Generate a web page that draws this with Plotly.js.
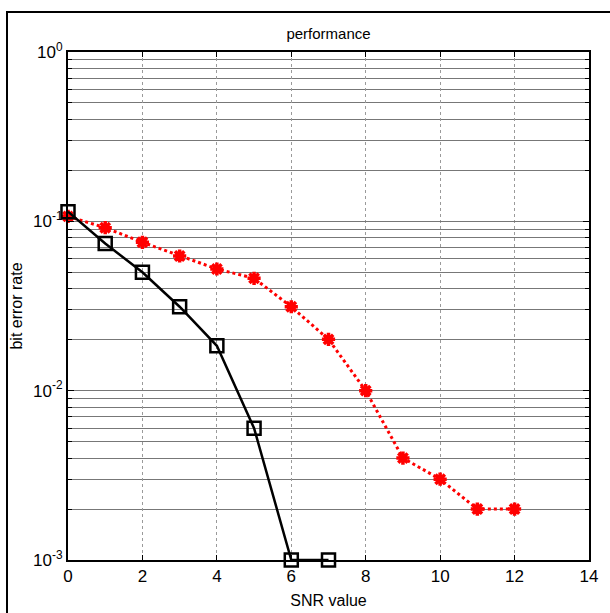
<!DOCTYPE html>
<html>
<head>
<meta charset="utf-8">
<script src="https://cdn.plot.ly/plotly-3.0.1.min.js"></script>
<style>
  html, body { margin: 0; padding: 0; background: #fff; }
  #wrap { position: relative; width: 610px; height: 613px; overflow: hidden; }
  #chart { position: absolute; left: 0; top: 0; width: 610px; height: 613px; }
  #frame { position: absolute; left: 6px; top: 11px; width: 700px; height: 700px;
           border-left: 2px solid #000; border-top: 2px solid #000; pointer-events: none; }
</style>
</head>
<body>
<div id="wrap">
  <div id="chart"></div>
  <div id="frame"></div>
</div>
<script>
// SNR values (dB)
const snr = [0, 1, 2, 3, 4, 5, 6, 7, 8, 9, 10, 11, 12];
// Black solid series (squares)
const berBlackX = [0, 1, 2, 3, 4, 5, 6, 7];
const berBlack = [0.114, 0.074, 0.050, 0.0313, 0.0184, 0.0060, 0.001, 0.001];
// Red dotted series (asterisks)
const berRed = [0.107, 0.0917, 0.0752, 0.0624, 0.0523, 0.0461, 0.0313, 0.0201, 0.0100, 0.0040, 0.0030, 0.0020, 0.0020];
// Y tick values & labels
const yTickVals = [0.001, 0.01, 0.1, 1];
const yTickText = ['10<sup>-3</sup>', '10<sup>-2</sup>', '10<sup>-1</sup>', '10<sup>0</sup>'];
const xTickVals = [0, 2, 4, 6, 8, 10, 12, 14];

const font = 'Liberation Sans, Arial, Helvetica, sans-serif';

const traces = [
  {
    x: snr, y: berRed, type: 'scatter', mode: 'lines+markers',
    line: { color: '#ff0000', width: 3, dash: 'dot' },
    marker: { symbol: 'asterisk-open', size: 11, color: '#ff0000', line: { color: '#ff0000', width: 3.5 } },
    cliponaxis: false, showlegend: false
  },
  {
    x: berBlackX, y: berBlack, type: 'scatter', mode: 'lines+markers',
    line: { color: '#000', width: 2.5 },
    marker: { symbol: 'square-open', size: 13, color: '#000', line: { color: '#000', width: 2.5 } },
    cliponaxis: false, showlegend: false
  }
];

const layout = {
  width: 610, height: 613,
  margin: { l: 68, r: 21, t: 52, b: 53 },
  paper_bgcolor: '#fff', plot_bgcolor: '#fff',
  font: { family: font, color: '#000', size: 16 },
  title: {
    text: 'performance', font: { family: font, size: 15, color: '#000' },
    x: 0.5, xref: 'paper', xanchor: 'center',
    y: 1, yref: 'paper', yanchor: 'bottom', pad: { b: 13 }
  },
  xaxis: {
    range: [0, 14], tickmode: 'array', tickvals: xTickVals,
    ticks: 'inside', ticklen: 5, tickwidth: 1, tickcolor: '#000',
    showline: true, linecolor: '#000', linewidth: 2, mirror: 'ticks',
    showgrid: true, gridcolor: '#9a9a9a', gridwidth: 1, griddash: 'dot',
    zeroline: false,
    tickfont: { family: font, size: 17, color: '#000' },
    title: { text: 'SNR value', font: { family: font, size: 16, color: '#000' }, standoff: 9 },
    automargin: false
  },
  yaxis: {
    type: 'log', range: [-3, 0],
    tickmode: 'array', tickvals: yTickVals, ticktext: yTickText,
    ticks: 'inside', ticklen: 6, tickwidth: 1, tickcolor: '#000',
    showline: true, linecolor: '#000', linewidth: 2, mirror: 'ticks',
    showgrid: true, gridcolor: '#777777', gridwidth: 1,
    minor: { dtick: 'D1', showgrid: true, gridcolor: '#777777', gridwidth: 1,
             ticks: 'inside', ticklen: 4, tickcolor: '#000' },
    zeroline: false,
    tickfont: { family: font, size: 17, color: '#000' },
    title: { text: 'bit error rate', font: { family: font, size: 16, color: '#000' }, standoff: 6 },
    automargin: false
  }
};

Plotly.newPlot('chart', traces, layout, { displayModeBar: false, staticPlot: true });
</script>
</body>
</html>
